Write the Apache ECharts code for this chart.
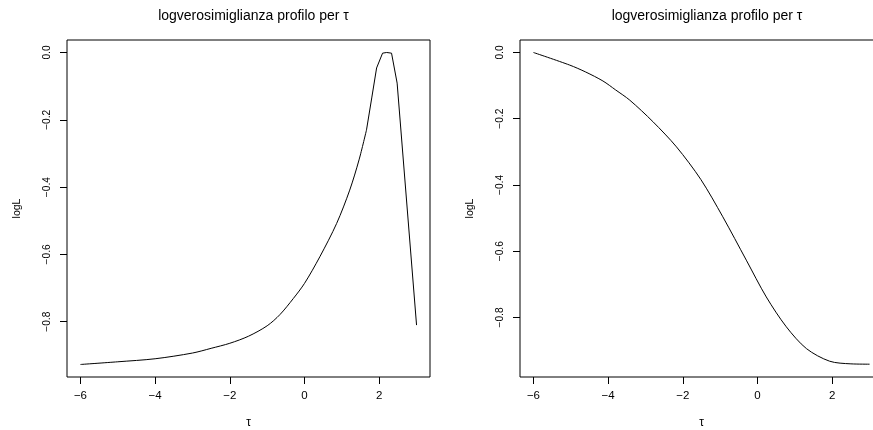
<!DOCTYPE html>
<html>
<head>
<meta charset="utf-8">
<script src="https://cdn.jsdelivr.net/npm/echarts@6/dist/echarts.min.js"></script>
<style>
  html, body { margin: 0; padding: 0; background: #fff; }
  #chart { width: 873px; height: 430px; }
</style>
</head>
<body>
<div id="chart"></div>
<script>
// Profile log-likelihood for tau, two model fits side by side
const titleText = 'logverosimiglianza profilo per τ';
const xName = 'τ';
const yName = 'logL';

const xTicks = [-6, -4, -2, 0, 2];
const yTicks = [-0.8, -0.6, -0.4, -0.2, 0.0];

// left panel: sharp peak near tau = 2.2
const leftTau = [-6, -5, -4, -3, -2.5, -2, -1.5, -1, -0.66, -0.3, 0, 0.41, 0.86, 1.21, 1.46, 1.66, 1.8, 1.93, 2.09, 2.2, 2.33, 2.48, 3.0];
const leftLogL = [-0.927, -0.919, -0.910, -0.893, -0.879, -0.864, -0.843, -0.812, -0.779, -0.731, -0.686, -0.607, -0.508, -0.409, -0.319, -0.230, -0.135, -0.046, -0.002, 0.0, -0.002, -0.091, -0.810];
// index where the smooth rise ends and the angular peak begins
const leftPeakStart = 15;

// right panel: monotone decrease from tau = -6
const rightTau = [-6, -5.03, -4.6, -4.14, -3.8, -3.42, -2.8, -2.17, -1.52, -0.93, -0.3, 0.235, 0.77, 1.31, 1.93, 2.5, 3.0];
const rightLogL = [0.0, -0.038, -0.059, -0.086, -0.113, -0.144, -0.209, -0.285, -0.383, -0.496, -0.627, -0.738, -0.828, -0.894, -0.932, -0.940, -0.941];

const FONT = 'Liberation Sans, Arial, Helvetica, sans-serif';
const minus = s => String(s).replace('-', '\u2212');

function pairs(xs, ys) { return xs.map((x, i) => [x, ys[i]]); }

function xAxisFor(idx) {
  return {
    gridIndex: idx, type: 'value', min: -6.36, max: 3.36,
    name: xName, nameLocation: 'middle', nameGap: 40,
    nameTextStyle: { color: '#000', fontFamily: FONT, fontSize: 12 },
    axisLine: { show: false, onZero: false },
    splitLine: { show: false },
    axisTick: { show: true, length: 7, customValues: xTicks, lineStyle: { color: '#000', width: 1 } },
    axisLabel: { customValues: xTicks, margin: 13, color: '#000', fontFamily: FONT, fontSize: 11.5,
                 formatter: v => minus(Math.round(v)) }
  };
}
function yAxisFor(idx, lo, hi) {
  return {
    gridIndex: idx, type: 'value', min: lo, max: hi,
    name: yName, nameLocation: 'middle', nameGap: 44,
    nameTextStyle: { color: '#000', fontFamily: FONT, fontSize: 10.5 },
    axisLine: { show: false, onZero: false },
    splitLine: { show: false },
    axisTick: { show: true, length: 7, customValues: yTicks, lineStyle: { color: '#000', width: 1 } },
    axisLabel: { customValues: yTicks, rotate: 90, margin: 15, color: '#000', fontFamily: FONT, fontSize: 10.2,
                 formatter: v => minus(v.toFixed(1)) }
  };
}

const leftPts = pairs(leftTau, leftLogL);
const lineStyle = { color: '#000', width: 1 };

const chart = echarts.init(document.getElementById('chart'), null, { renderer: 'canvas' });
chart.setOption({
  backgroundColor: '#fff',
  animation: false,
  title: [
    { text: titleText, left: 248.5, top: 4, textAlign: 'center',
      textStyle: { color: '#000', fontWeight: 'normal', fontFamily: FONT, fontSize: 14 } },
    { text: titleText, left: 702, top: 4, textAlign: 'center',
      textStyle: { color: '#000', fontWeight: 'normal', fontFamily: FONT, fontSize: 14 } }
  ],
  grid: [
    { left: 67, top: 40, width: 363, height: 337, show: true, borderColor: '#000', borderWidth: 1,
      backgroundColor: 'transparent', outerBoundsMode: 'none' },
    { left: 520, top: 40, width: 363, height: 337, show: true, borderColor: '#000', borderWidth: 1,
      backgroundColor: 'transparent', outerBoundsMode: 'none' }
  ],
  xAxis: [xAxisFor(0), xAxisFor(1)],
  yAxis: [yAxisFor(0, -0.9642, 0.0371), yAxisFor(1, -0.9797, 0.0377)],
  series: [
    { type: 'line', xAxisIndex: 0, yAxisIndex: 0, data: leftPts.slice(0, leftPeakStart + 1),
      showSymbol: false, smooth: 0.3, lineStyle },
    { type: 'line', xAxisIndex: 0, yAxisIndex: 0, data: leftPts.slice(leftPeakStart),
      showSymbol: false, lineStyle },
    { type: 'line', xAxisIndex: 1, yAxisIndex: 1, data: pairs(rightTau, rightLogL),
      showSymbol: false, smooth: 0.3, lineStyle }
  ]
});
</script>
</body>
</html>
